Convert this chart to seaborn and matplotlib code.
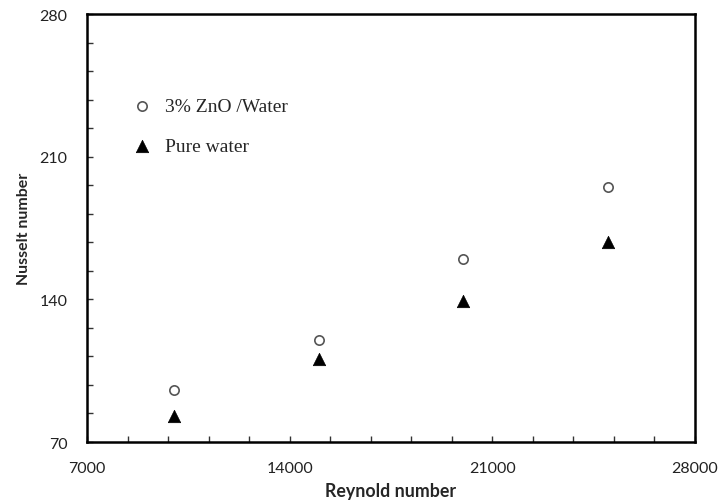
import matplotlib
matplotlib.use("Agg")
import matplotlib.pyplot as plt
import seaborn as sns
import pandas as pd
from matplotlib.ticker import MultipleLocator

reynolds = [10000, 15000, 20000, 25000]
nu_zno = [95.5, 120.2, 159.8, 195.0]
nu_water = [82.9, 110.7, 139.3, 168.0]
series_names = ["3% ZnO /Water", "Pure water"]

df = pd.DataFrame({
    "Re": reynolds * 2,
    "Nu": nu_zno + nu_water,
    "Fluid": [series_names[0]] * 4 + [series_names[1]] * 4,
})

sns.set_style("white")
plt.rcParams['font.family'] = ['Lato', 'DejaVu Sans']

fig = plt.figure(figsize=(7.19, 5.02), dpi=100)
ax = fig.add_axes([0.121, 0.1175, 0.8456, 0.8525])

sns.scatterplot(data=df[df.Fluid == series_names[0]], x="Re", y="Nu", ax=ax,
                marker="o", s=45, facecolor="white", edgecolor="#555555",
                linewidth=1.2, label=series_names[0])
sns.scatterplot(data=df[df.Fluid == series_names[1]], x="Re", y="Nu", ax=ax,
                marker="^", s=80, color="black", edgecolor="black",
                linewidth=0.5, label=series_names[1])

ax.set_xlim(7000, 28000)
ax.set_ylim(70, 280)
ax.xaxis.set_major_locator(MultipleLocator(7000))
ax.xaxis.set_minor_locator(MultipleLocator(1400))
ax.yaxis.set_major_locator(MultipleLocator(70))
ax.yaxis.set_minor_locator(MultipleLocator(14))
ax.tick_params(axis="both", which="both", direction="in", length=4, width=1,
               color="#333333", labelsize=11.5, labelcolor="#222222",
               bottom=True, left=True, top=False, right=False)
ax.tick_params(axis="x", which="major", pad=14)
ax.tick_params(axis="y", which="major", pad=14)

for sp in ax.spines.values():
    sp.set_color("black")
    sp.set_linewidth(1.8)

ax.set_xlabel("Reynold number", fontsize=12.8, fontweight="bold", labelpad=5)
ax.set_ylabel("Nusselt number", fontsize=11.4, fontweight="bold", labelpad=6)

leg = ax.legend(loc="upper left", bbox_to_anchor=(0.045, 0.846), frameon=False,
                prop={"family": "Liberation Serif", "size": 14},
                labelspacing=1.15, handletextpad=0.7, handlelength=1.0)

fig.savefig("out.png", dpi=100)
